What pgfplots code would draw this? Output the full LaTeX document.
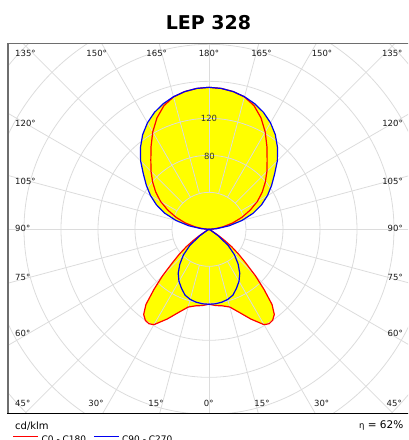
\documentclass[border=0pt]{standalone}
\usepackage{fontspec}
\setmainfont{DejaVu Sans}
\usepackage{pgfplots}
\pgfplotsset{compat=1.18}
\usepackage{pgfplotstable}
\definecolor{gridc}{HTML}{DCDCDC}
\definecolor{czero}{HTML}{FF0000}
\definecolor{cninety}{HTML}{0000F0}
\definecolor{lobe}{HTML}{FFFF00}
\definecolor{frame}{HTML}{6E6E6E}

% gamma (0 = down, 180 = up), intensity in cd/klm
\pgfplotstableread{
g I
0 81
5 82.7
10 84
15 87
20 95.5
25 107
30 119
32.5 121
35 120
37.5 116
40 106
42.5 88
45 71
47.5 54
50 42
52.5 31
55 19.5
57.5 10
60 3
65 0.5
70 0
90 0
95 5.4
100 15.1
105 26.5
110 37.8
115 49.2
120 60.5
125 70.3
130 79.5
135 88.6
140 97.8
145 109.2
150 121.6
155 133
160 142.3
165 148.2
170 151.2
175 152.9
180 153.5
}\tabczero

\pgfplotstableread{
g I
0 81
5 80.8
10 80
15 78.4
20 75.7
25 70.3
30 64.9
35 58
40 49
45 39
50 27
55 12
60 3
65 0.5
70 0
90 0
95 8.6
100 22.1
105 36.8
110 50.8
115 62.7
120 73
125 82.6
130 92.5
135 104.5
140 115.3
145 125
150 133
155 139.5
160 144.5
165 148.4
170 151.2
175 152.9
180 153.5
}\tabcninety

\begin{document}
\begin{tikzpicture}[x=1pt,y=1pt,
  lab/.style={font=\fontsize{8.5}{10}\selectfont, text=black!90, inner sep=0pt}]
\useasboundingbox (0,0) rectangle (408,440);
\clip (0,0) rectangle (408,440);

\begin{axis}[at={(9pt,26.5pt)}, anchor=south west,
  x=0.925pt, y=0.925pt,
  xmin=-216.2, xmax=216.2, ymin=-199.1, ymax=200.9,
  axis line style={draw=none}, ticks=none, clip=true]

% yellow area (union of both planes, both halves)
\addplot[fill=lobe, draw=none, forget plot] table[x expr={\thisrow{I}*sin(\thisrow{g})}, y expr={-\thisrow{I}*cos(\thisrow{g})}] {\tabczero};
\addplot[fill=lobe, draw=none, forget plot] table[x expr={-\thisrow{I}*sin(\thisrow{g})}, y expr={-\thisrow{I}*cos(\thisrow{g})}] {\tabczero};
\addplot[fill=lobe, draw=none, forget plot] table[x expr={\thisrow{I}*sin(\thisrow{g})}, y expr={-\thisrow{I}*cos(\thisrow{g})}] {\tabcninety};
\addplot[fill=lobe, draw=none, forget plot] table[x expr={-\thisrow{I}*sin(\thisrow{g})}, y expr={-\thisrow{I}*cos(\thisrow{g})}] {\tabcninety};

% polar grid
\pgfplotsinvokeforeach{1,...,7}{\draw[gridc, line width=0.8pt] (axis cs:0,0) circle[radius=#1*37pt];}
\pgfplotsinvokeforeach{0,15,...,345}{\draw[gridc, line width=0.8pt] (axis cs:{40*cos(#1)},{40*sin(#1)}) -- (axis cs:{340*cos(#1)},{340*sin(#1)});}

% curves
\addplot[czero, line width=1.2pt, line join=round] table[x expr={\thisrow{I}*sin(\thisrow{g})}, y expr={-\thisrow{I}*cos(\thisrow{g})}] {\tabczero};
\addplot[czero, line width=1.2pt, line join=round] table[x expr={-\thisrow{I}*sin(\thisrow{g})}, y expr={-\thisrow{I}*cos(\thisrow{g})}] {\tabczero};
\addplot[cninety, line width=1.2pt, line join=round] table[x expr={\thisrow{I}*sin(\thisrow{g})}, y expr={-\thisrow{I}*cos(\thisrow{g})}] {\tabcninety};
\addplot[cninety, line width=1.2pt, line join=round] table[x expr={-\thisrow{I}*sin(\thisrow{g})}, y expr={-\thisrow{I}*cos(\thisrow{g})}] {\tabcninety};
\end{axis}

% frame
\draw[frame, line width=1.6pt] (8.2,26.5) -- (8.2,397.1);
\draw[frame, line width=1.6pt] (7.4,396.3) -- (420,396.3);
\draw[black, line width=1.4pt] (7.4,26.4) -- (420,26.4);

% title
\node[font=\fontsize{19}{22}\selectfont\bfseries, inner sep=0pt] at (208.5,417.8) {LEP 328};

% angle labels, top row
\node[lab, anchor=west] at (15,386.7) {135°};
\node[lab] at (96.7,386.7) {150°};
\node[lab] at (156.7,386.7) {165°};
\node[lab] at (209,386.7) {180°};
\node[lab] at (261.5,386.7) {165°};
\node[lab] at (322,386.7) {150°};
\node[lab, anchor=east] at (402.7,386.7) {135°};
% left column
\node[lab, anchor=west] at (15,316.7) {120°};
\node[lab, anchor=west] at (15,258.3) {105°};
\node[lab, anchor=west] at (15,211.7) {90°};
\node[lab, anchor=west] at (15,162.5) {75°};
\node[lab, anchor=west] at (15,106.5) {60°};
\node[lab, anchor=west] at (15,36.5) {45°};
% right column
\node[lab, anchor=east] at (403,316.7) {120°};
\node[lab, anchor=east] at (403,258.3) {105°};
\node[lab, anchor=east] at (403,211.7) {90°};
\node[lab, anchor=east] at (403,162.5) {75°};
\node[lab, anchor=east] at (403,106.5) {60°};
\node[lab, anchor=east] at (402,36.5) {45°};
% bottom row
\node[lab] at (96,36.5) {30°};
\node[lab] at (156,36.5) {15°};
\node[lab] at (208.7,36.5) {0°};
\node[lab] at (262,36.5) {15°};
\node[lab] at (321.7,36.5) {30°};
% intensity labels
\node[lab, text=black!80] at (209,321.7) {120};
\node[lab, text=black!80] at (209.5,284) {80};

% unit, efficiency and legend
\node[anchor=west, inner sep=0pt, font=\fontsize{10}{12}\selectfont] at (15,13.8) {cd/klm};
\node[anchor=east, inner sep=0pt, font=\fontsize{10.5}{12}\selectfont] at (403.5,15) {{\fontsize{8.5}{10}\selectfont η} = 62\%};
\draw[czero, line width=1.3pt] (13,3.3) -- (38,3.3);
\node[anchor=north west, inner sep=0pt, font=\fontsize{9}{10}\selectfont] at (41.5,4.5) {C0 - C180};
\draw[cninety, line width=1.3pt] (94,3.3) -- (119,3.3);
\node[anchor=north west, inner sep=0pt, font=\fontsize{9}{10}\selectfont] at (122,4.5) {C90 - C270};
\end{tikzpicture}
\end{document}
